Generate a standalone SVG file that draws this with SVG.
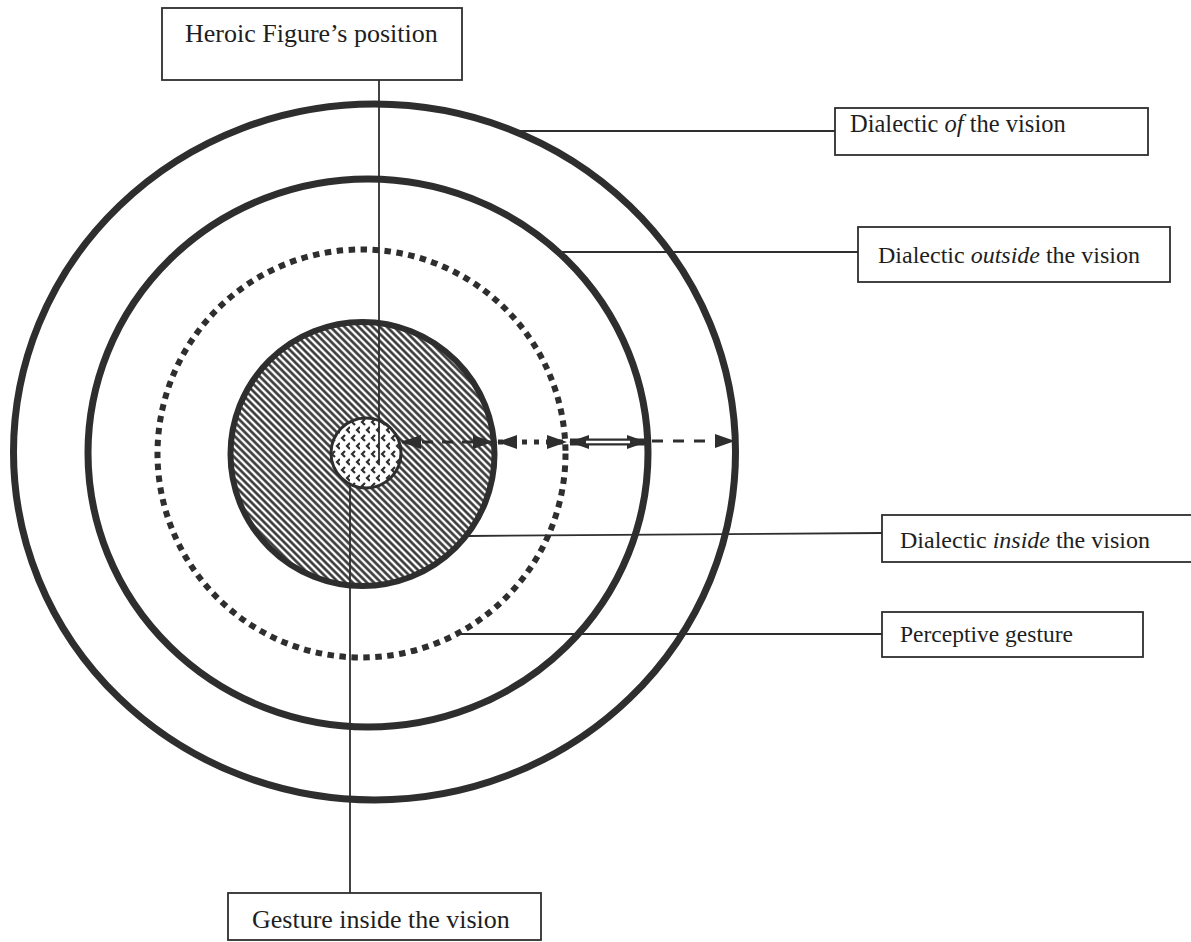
<svg xmlns="http://www.w3.org/2000/svg" width="1191" height="942" viewBox="0 0 1191 942">
  <style>
    .ring { fill: none; stroke: #2e2e2e; stroke-width: 7; }
    .box { fill: #ffffff; stroke: #2e2e2e; stroke-width: 1.8; }
    .lbl { font-family: "Liberation Serif", "Times New Roman", serif; fill: #1e1e1e; }
    .lead { stroke: #2e2e2e; stroke-width: 1.8; fill: none; }
    .arr { stroke: #2e2e2e; fill: none; }
  </style>
  <defs>
    <!-- diagonal hatching for the inner disc -->
    <pattern id="hatch" width="5" height="5" patternUnits="userSpaceOnUse" patternTransform="rotate(-45)">
      <rect width="5" height="5" fill="#ffffff"/>
      <line x1="2.5" y1="-1" x2="2.5" y2="6" stroke="#2e2e2e" stroke-width="2.5"/>
    </pattern>
    <!-- staggered chevron stipple for the core -->
    <pattern id="stipple" width="10" height="16" patternUnits="userSpaceOnUse" x="330" y="418">
      <rect width="10" height="16" fill="#ffffff"/>
      <path d="M5,1 L2,4 L5,7" fill="none" stroke="#2e2e2e" stroke-width="2.2"/>
      <path d="M10,9 L7,12 L10,15" fill="none" stroke="#2e2e2e" stroke-width="2.2"/>
    </pattern>
    <marker id="head" viewBox="0 0 20 14" refX="19" refY="7" markerWidth="20" markerHeight="14" markerUnits="userSpaceOnUse" orient="auto-start-reverse">
      <path d="M0,0 L20,7 L0,14 z" fill="#2e2e2e"/>
    </marker>
  </defs>

  <!-- concentric rings -->
  <g id="ring-outer">
    <ellipse class="ring" cx="374.5" cy="452" rx="361" ry="348"/>
  </g>
  <g id="ring-second">
    <ellipse class="ring" cx="368" cy="453" rx="280" ry="274"/>
  </g>
  <g id="ring-perceptive">
    <circle cx="361.5" cy="453.5" r="204" fill="none" stroke="#2e2e2e" stroke-width="6" stroke-dasharray="6.5 5.5"/>
  </g>
  <g id="disc-inside">
    <circle cx="362.5" cy="454" r="132" fill="url(#hatch)" stroke="#2e2e2e" stroke-width="6"/>
  </g>
  <g id="core-gesture">
    <circle cx="366" cy="453" r="35" fill="url(#stipple)" stroke="#2e2e2e" stroke-width="3"/>
  </g>

  <!-- connectors -->
  <g id="connectors">
    <line class="lead" x1="379" y1="80" x2="379" y2="463"/>
    <line class="lead" x1="350" y1="484" x2="350" y2="893"/>
    <line class="lead" x1="510" y1="131" x2="835" y2="131"/>
    <line class="lead" x1="558" y1="252" x2="858" y2="252"/>
    <line class="lead" x1="468" y1="536" x2="882" y2="533"/>
    <line class="lead" x1="457" y1="634" x2="882" y2="634"/>

    <!-- radial measuring arrows -->
    <line class="arr" x1="402" y1="442" x2="492" y2="442" stroke-width="3" stroke-dasharray="11 9" marker-start="url(#head)" marker-end="url(#head)"/>
    <line class="arr" x1="498" y1="442" x2="566" y2="442" stroke-width="5" stroke-dasharray="5 7" marker-start="url(#head)" marker-end="url(#head)"/>
    <line class="arr" x1="570" y1="442" x2="646" y2="442" stroke-width="7" marker-start="url(#head)" marker-end="url(#head)"/>
    <line x1="586" y1="442" x2="630" y2="442" stroke="#ffffff" stroke-width="2.6"/>
    <line class="arr" x1="652" y1="441" x2="734" y2="441" stroke-width="3" stroke-dasharray="11 10" marker-end="url(#head)"/>
  </g>

  <!-- labels -->
  <g id="node-heroic">
    <rect class="box" x="162" y="8" width="300" height="72"/>
    <text class="lbl" x="185" y="42" font-size="26">Heroic Figure’s position</text>
  </g>
  <g id="node-gesture">
    <rect class="box" x="228" y="893" width="313" height="47"/>
    <text class="lbl" x="252" y="928" font-size="26">Gesture inside the vision</text>
  </g>
  <g id="node-of">
    <rect class="box" x="835" y="108" width="313" height="47"/>
    <text class="lbl" x="850" y="132" font-size="24.5">Dialectic <tspan font-style="italic">of</tspan> the vision</text>
  </g>
  <g id="node-outside">
    <rect class="box" x="858" y="227" width="312" height="55"/>
    <text class="lbl" x="878" y="263" font-size="24">Dialectic <tspan font-style="italic">outside</tspan> the vision</text>
  </g>
  <g id="node-inside">
    <rect class="box" x="882" y="515" width="320" height="47"/>
    <text class="lbl" x="900" y="548" font-size="24">Dialectic <tspan font-style="italic">inside</tspan> the vision</text>
  </g>
  <g id="node-perceptive">
    <rect class="box" x="882" y="612" width="261" height="45"/>
    <text class="lbl" x="900" y="642" font-size="23.5">Perceptive gesture</text>
  </g>
</svg>
